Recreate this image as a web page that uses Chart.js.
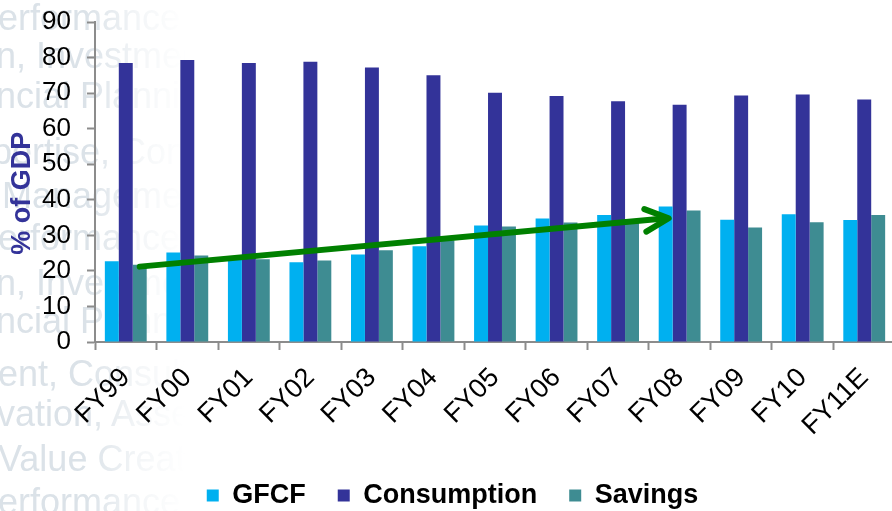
<!DOCTYPE html>
<html>
<head>
<meta charset="utf-8">
<script src="https://cdn.jsdelivr.net/npm/chart.js@4.4.0/dist/chart.umd.min.js"></script>
<style>
    html, body { margin: 0; padding: 0; background: #fff; overflow: hidden; }
    body { width: 892px; height: 511px; position: relative; }
    .backdrop {
        position: absolute; left: 0; top: 0; width: 260px; height: 511px;
        font-family: "Liberation Sans", Arial, sans-serif; font-size: 36px;
        color: #dbe2e8; white-space: nowrap; filter: blur(0.4px);
        -webkit-mask-image: linear-gradient(to right, #000 0px, #000 85px, rgba(0,0,0,0.3) 140px, transparent 185px);
        mask-image: linear-gradient(to right, #000 0px, #000 85px, rgba(0,0,0,0.3) 140px, transparent 185px);
    }
    .backdrop span { position: absolute; line-height: 1; }
    .chart-box { position: absolute; left: 0; top: 0; width: 895px; height: 519px; }
</style>
</head>
<body>
<div class="backdrop">
    <span style="left:-2px; top:0px">erformance</span>
    <span style="left:-4px; top:38px">n, Investment</span>
    <span style="left:-4px; top:78px">ncial Planning</span>
    <span style="left:-8px; top:134px">pertise, Consulting</span>
    <span style="left:2px; top:178px">Management</span>
    <span style="left:-2px; top:220px">erformance</span>
    <span style="left:-4px; top:265px">n, Investment</span>
    <span style="left:-4px; top:303px">ncial Planning</span>
    <span style="left:-2px; top:356px">ent, Consulting</span>
    <span style="left:-3px; top:396px">vation, Assets</span>
    <span style="left:-2px; top:441px">Value Creation</span>
    <span style="left:-2px; top:484px">erformance</span>
</div>
<div class="chart-box"><canvas id="gdpChart"></canvas></div>
<script>
    const categories = ['FY99', 'FY00', 'FY01', 'FY02', 'FY03', 'FY04', 'FY05',
        'FY06', 'FY07', 'FY08', 'FY09', 'FY10', 'FY11E'];

    // share of GDP, %
    const gfcf = [22.7, 25.2, 23.6, 22.4, 24.6, 26.9, 32.8, 34.7, 35.7, 38.1, 34.4, 35.9, 34.3];
    const consumption = [78.5, 79.3, 78.5, 78.8, 77.2, 75.0, 70.1, 69.2, 67.7, 66.7, 69.3, 69.6, 68.2];
    const savings = [21.7, 24.3, 23.3, 22.9, 25.8, 28.6, 32.5, 33.6, 34.5, 37.0, 32.2, 33.7, 35.7];

    const yTicks = [0, 10, 20, 30, 40, 50, 60, 70, 80, 90];

    // trend arrow: from the FY99 savings bar to the FY08 GFCF bar
    const trendFrom = { series: 2, index: 0, value: 21.2 };
    const trendTo = { series: 0, index: 9, value: 34.8 };

    const FONT = '"Liberation Sans", Arial, sans-serif';
    const AXIS_GREY = '#8c8c8c';

    const yTitlePlugin = {
        id: 'yTitle',
        afterDraw(chart) {
            const { ctx, chartArea } = chart;
            ctx.save();
            ctx.translate(23, chartArea.top + (chartArea.bottom - chartArea.top) * 0.535);
            ctx.rotate(-Math.PI / 2);
            ctx.font = 'bold 27px ' + FONT;
            ctx.fillStyle = '#333399';
            ctx.textAlign = 'center';
            ctx.textBaseline = 'middle';
            ctx.fillText('% of GDP', 0, 0);
            ctx.restore();
        }
    };

    const trendArrowPlugin = {
        id: 'trendArrow',
        afterDatasetsDraw(chart) {
            const { ctx } = chart;
            const y = chart.scales.y;
            const x0 = chart.getDatasetMeta(trendFrom.series).data[trendFrom.index].x;
            const x1 = chart.getDatasetMeta(trendTo.series).data[trendTo.index].x + 3;
            const y0 = y.getPixelForValue(trendFrom.value);
            const y1 = y.getPixelForValue(trendTo.value);
            const ang = Math.atan2(y1 - y0, x1 - x0);
            const head = 26;
            ctx.save();
            ctx.strokeStyle = '#008000';
            ctx.lineWidth = 6;
            ctx.lineCap = 'round';
            ctx.lineJoin = 'round';
            ctx.beginPath();
            ctx.moveTo(x0, y0);
            ctx.lineTo(x1 - 2, y1);
            ctx.stroke();
            ctx.beginPath();
            ctx.moveTo(x1 - head * Math.cos(ang - 0.45), y1 - head * Math.sin(ang - 0.45));
            ctx.lineTo(x1, y1);
            ctx.lineTo(x1 - head * Math.cos(ang + 0.45), y1 - head * Math.sin(ang + 0.45));
            ctx.stroke();
            ctx.restore();
        }
    };

    const legendShiftPlugin = {
        id: 'legendShift',
        afterLayout(chart) {
            chart.legend.left += 5;
            chart.legend.right += 5;
        }
    };

    const barStyle = { categoryPercentage: 0.68, barPercentage: 1.0, borderWidth: 0 };

    new Chart(document.getElementById('gdpChart'), {
        type: 'bar',
        data: {
            labels: categories,
            datasets: [
                { label: 'GFCF', data: gfcf, backgroundColor: '#00b0f0', ...barStyle },
                { label: 'Consumption', data: consumption, backgroundColor: '#333399', ...barStyle },
                { label: 'Savings', data: savings, backgroundColor: '#3e8c92', ...barStyle }
            ]
        },
        options: {
            responsive: true,
            maintainAspectRatio: false,
            animation: false,
            layout: { padding: { top: 22, left: 0, right: 0, bottom: 0 } },
            plugins: {
                legend: {
                    position: 'bottom',
                    labels: {
                        boxWidth: 12,
                        boxHeight: 12,
                        padding: 32,
                        color: '#000',
                        font: { family: FONT, size: 27, weight: 'bold' }
                    }
                },
                tooltip: { enabled: false }
            },
            scales: {
                x: {
                    afterFit(scale) {
                        scale.height = 108;
                        scale.paddingLeft = 0;
                        scale.paddingRight = 0;
                    },
                    grid: {
                        offset: true,
                        drawOnChartArea: false,
                        drawTicks: true,
                        tickLength: 8,
                        tickWidth: 2,
                        tickColor: AXIS_GREY
                    },
                    border: { color: AXIS_GREY, width: 2 },
                    ticks: {
                        maxRotation: 45,
                        minRotation: 45,
                        autoSkip: false,
                        padding: 12,
                        color: '#000',
                        font: { family: FONT, size: 27 }
                    }
                },
                y: {
                    min: 0,
                    max: 90,
                    afterFit(scale) {
                        scale.width = 95;
                        scale.paddingTop = 0;
                        scale.paddingBottom = 0;
                    },
                    afterBuildTicks(scale) { scale.ticks = yTicks.map(v => ({ value: v })); },
                    grid: {
                        drawOnChartArea: false,
                        drawTicks: true,
                        tickLength: 8,
                        tickWidth: 2,
                        tickColor: AXIS_GREY
                    },
                    border: { color: AXIS_GREY, width: 2 },
                    ticks: {
                        padding: 16,
                        color: '#000',
                        font: { family: FONT, size: 26 }
                    }
                }
            }
        },
        plugins: [yTitlePlugin, trendArrowPlugin, legendShiftPlugin]
    });
</script>
</body>
</html>
